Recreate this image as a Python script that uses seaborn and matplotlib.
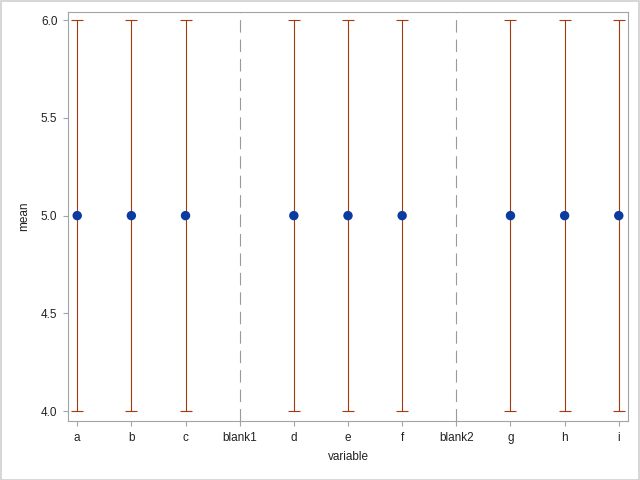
import matplotlib
matplotlib.use("Agg")
import matplotlib.pyplot as plt
import seaborn as sns
import numpy as np
import pandas as pd

categories = ["a", "b", "c", "blank1", "d", "e", "f", "blank2", "g", "h", "i"]
means = [5.0, 5.0, 5.0, np.nan, 5.0, 5.0, 5.0, np.nan, 5.0, 5.0, 5.0]
lower = [4.0, 4.0, 4.0, np.nan, 4.0, 4.0, 4.0, np.nan, 4.0, 4.0, 4.0]
upper = [6.0, 6.0, 6.0, np.nan, 6.0, 6.0, 6.0, np.nan, 6.0, 6.0, 6.0]
separators = ["blank1", "blank2"]
yticks = [4.0, 4.5, 5.0, 5.5, 6.0]
ytick_labels = ["4.0", "4.5", "5.0", "5.5", "6.0"]

df = pd.DataFrame({"variable": categories, "mean": means, "lower": lower, "upper": upper})

sns.set_theme(style="white")
plt.rcParams["font.family"] = ["Liberation Sans", "DejaVu Sans"]
plt.rcParams["lines.scale_dashes"] = False

BAR = "#A3390C"
DOT = "#0A3CA0"
FRAME = "#A0A4A8"
TXT = "#222222"

fig = plt.figure(figsize=(6.4, 4.8), dpi=100)
ax = fig.add_axes([68 / 640, 1 - 421 / 480, (628 - 68) / 640, (421 - 12) / 480])

ax.errorbar(df["variable"], df["mean"],
            yerr=[df["mean"] - df["lower"], df["upper"] - df["mean"]],
            fmt="none", ecolor=BAR, elinewidth=0.8, capsize=4, capthick=0.8, zorder=2)

sns.scatterplot(data=df, x="variable", y="mean", color=DOT, s=46,
                edgecolor="none", linewidth=0, ax=ax, zorder=3, legend=False)

for s in separators:
    ax.axvline(categories.index(s), color="#9A9A9A", lw=0.8,
               linestyle=(0, (9, 5)), zorder=1)

ax.set_xlim(-0.17, 10.17)
ax.set_ylim(3.949, 6.042)
ax.set_yticks(yticks)
ax.set_yticklabels(ytick_labels)

for sp in ax.spines.values():
    sp.set_color(FRAME)
    sp.set_linewidth(0.8)

ax.tick_params(axis="both", which="major", direction="out", length=3.6, width=0.8,
               color=FRAME, labelcolor=TXT, labelsize=8.5, pad=4,
               bottom=True, left=True)
ax.set_xlabel("variable", fontsize=8.5, color=TXT, labelpad=5)
ax.set_ylabel("mean", fontsize=8.5, color=TXT, labelpad=8)

# outer border of figure
fig.patches.append(plt.Rectangle((0.5 / 640, 0.5 / 480), 638.5 / 640, 478.5 / 480,
                                 transform=fig.transFigure, fill=False,
                                 edgecolor="#D0D0D0", lw=1.2))

fig.savefig("out.png", dpi=100)
